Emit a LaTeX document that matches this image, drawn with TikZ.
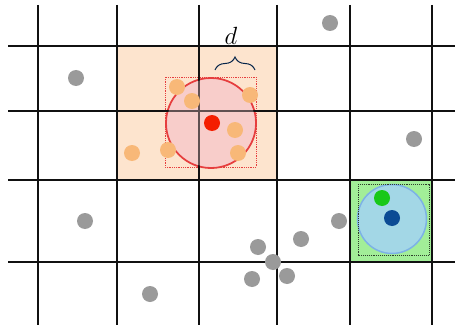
\documentclass[tikz,border=0pt]{standalone}
\usepackage{tikz}
\usetikzlibrary{decorations.pathreplacing}
\definecolor{gridink}{HTML}{111111}
\definecolor{pointgrey}{HTML}{9A9A9A}
\definecolor{cellorange}{HTML}{FDE4CE}
\definecolor{edgeorange}{HTML}{F2A640}
\definecolor{nborange}{HTML}{F8B878}
\definecolor{rangered}{HTML}{E63E3E}
\definecolor{rangepink}{HTML}{F8C8CA}
\definecolor{querred}{HTML}{F41E00}
\definecolor{cellgreen}{HTML}{A2EE98}
\definecolor{rangeblue}{HTML}{A3D7E6}
\definecolor{edgeblue}{HTML}{7DB2E6}
\definecolor{ptgreen}{HTML}{18C818}
\definecolor{ptblue}{HTML}{0B4B94}
\tikzset{
  pt/.style={circle,inner sep=0pt,minimum size=16,draw=none},
  grey pt/.style={pt,fill=pointgrey},
  nb pt/.style={pt,fill=nborange},
}

\begin{document}
\begin{tikzpicture}[x=1pt,y=-1pt]
    \useasboundingbox (0,0) rectangle (455,329);
    % highlighted cells
    \fill[cellorange](117,46) rectangle(277,180);
    \draw[edgeorange,line width=1.4pt](117,46)--(277,46) (117,180)--(277,180);
    \fill[cellgreen](351,180) rectangle(431,261);
    % search ranges
    \draw[rangered,line width=1.8pt,fill=rangepink,fill opacity=.7](211,123) circle(45);
    \draw[rangered,densely dotted,line width=.8pt](165,77) rectangle(256,167);
    \draw[edgeblue,line width=1.5pt,fill=rangeblue](392,219) circle(34.5);
    \draw[gridink!80!cellgreen,densely dotted,line width=.9pt](358,184) rectangle(429,255);
    % grid
    \foreach \gx in {38,117,199,277,350,432}
      \draw[gridink,line width=1.1pt](\gx,5)--(\gx,325);
    \foreach \gy in {46,111,180,262}
      \draw[gridink,line width=1.1pt](8,\gy)--(455,\gy);
    \fill[rangepink,opacity=.35](211,123) circle(44);
    % points
    \node[grey pt] (g1) at (330,23){};  \node[grey pt] (g2) at (76,78){};
    \node[grey pt] (g3) at (414,139){}; \node[grey pt] (g4) at (85,221){};
    \node[grey pt] (g5) at (339,221){}; \node[grey pt] (g6) at (301,239){};
    \node[grey pt] (g7) at (258,247){}; \node[grey pt] (g8) at (273,262){};
    \node[grey pt] (g9) at (252,279){}; \node[grey pt] (g10) at (287,276){};
    \node[grey pt] (g11) at (150,294){};
    \node[nb pt] (n1) at (177,87){};  \node[nb pt] (n2) at (192,101){};
    \node[nb pt] (n3) at (250,95){};  \node[nb pt] (n4) at (235,130){};
    \node[nb pt] (n5) at (238,153){}; \node[nb pt] (n6) at (168,150){};
    \node[nb pt] (n7) at (132,153){};
    \node[pt,fill=querred] (q) at (212,123){};
    \node[pt,fill=ptgreen] (pg) at (382,198){};
    \node[pt,fill=ptblue] (pb) at (392,218){};
    % distance brace
    \coordinate (bl) at (215,70); \coordinate (br) at (255,70);
    \draw[ptblue!50!black,line width=1pt,decorate,decoration={brace,amplitude=13pt,aspect=.5}](bl)--(br);
    \node[font=\fontsize{28}{30}\selectfont] (dlab) at (231,36){$d$};
\end{tikzpicture}
\end{document}
